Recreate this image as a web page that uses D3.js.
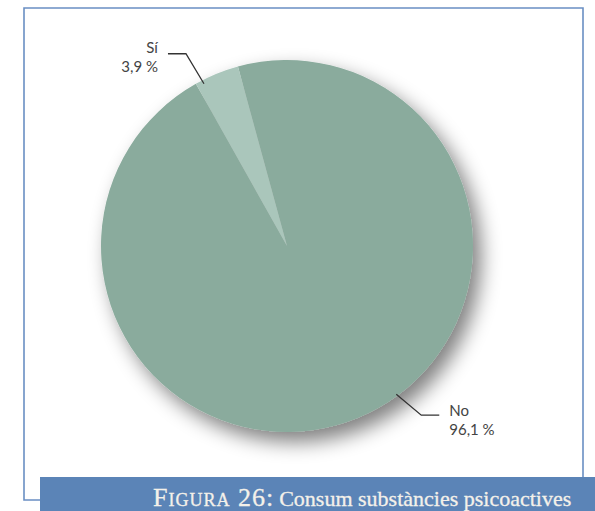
<!DOCTYPE html>
<html>
<head>
<meta charset="utf-8">
<script src="https://cdn.jsdelivr.net/npm/d3@7"></script>
<style>
  html, body { margin: 0; padding: 0; background: #ffffff; }
  svg { display: block; }
</style>
</head>
<body>
<svg id="chart" width="595" height="511"></svg>
<script>
// Consum de substàncies psicoactives: Sí / No
const categories = ["No", "Sí"];
const values = [96.1, 3.9];
const valueLabels = ["96,1 %", "3,9 %"];
const colors = ["#8aab9d", "#aac6bb"];

const W = 595, H = 511;
const svg = d3.select("#chart");

// frame and caption band
const frame = { x: 24, y: 8, right: 583, bottom: 500, bandX: 40, bandY: 477 };
svg.append("path")
  .attr("d", `M${frame.bandX},${frame.bottom} L${frame.x},${frame.bottom} L${frame.x},${frame.y} L${frame.right},${frame.y} L${frame.right},${frame.bandY}`)
  .attr("fill", "none")
  .attr("stroke", "#6a8fc3")
  .attr("stroke-width", 1.6);

svg.append("rect")
  .attr("x", frame.bandX).attr("y", frame.bandY)
  .attr("width", W - frame.bandX).attr("height", H - frame.bandY)
  .attr("fill", "#5b84b7");

const caption = svg.append("text")
  .attr("x", 153).attr("y", 506)
  .attr("fill", "#f4f1ea")
  .attr("stroke", "#f4f1ea").attr("stroke-width", 0.3)
  .attr("font-family", "'Liberation Serif', 'DejaVu Serif', serif");
caption.append("tspan")
  .attr("font-size", 26)
  .attr("font-variant", "small-caps")
  .attr("letter-spacing", 1)
  .text("Figura 26:");
caption.append("tspan")
  .attr("font-size", 22)
  .attr("dx", 5)
  .text("Consum substàncies psicoactives");

// pie
const cx = 287, cy = 246, r = 186;
const startAngle = -15.3 * Math.PI / 180;

const defs = svg.append("defs");
const filt = defs.append("filter").attr("id", "shadow")
  .attr("x", "-30%").attr("y", "-30%").attr("width", "160%").attr("height", "160%");
filt.append("feGaussianBlur").attr("in", "SourceAlpha").attr("stdDeviation", 10).attr("result", "blur");
filt.append("feOffset").attr("in", "blur").attr("dx", 8).attr("dy", 10).attr("result", "off");
filt.append("feComponentTransfer").attr("in", "off").attr("result", "soft")
  .append("feFuncA").attr("type", "linear").attr("slope", 0.5);
const merge = filt.append("feMerge");
merge.append("feMergeNode").attr("in", "soft");
merge.append("feMergeNode").attr("in", "SourceGraphic");

const pie = d3.pie().sort(null).value(d => d)
  .startAngle(startAngle).endAngle(startAngle + 2 * Math.PI);
const arcs = pie(values);
const arc = d3.arc().innerRadius(0).outerRadius(r);

const g = svg.append("g").attr("transform", `translate(${cx},${cy})`);
g.append("g").attr("filter", "url(#shadow)")
  .selectAll("path")
  .data(arcs)
  .join("path")
  .attr("d", arc)
  .attr("fill", (d, i) => colors[i]);

// leader lines and labels
// anchor: angle (deg, clockwise from top) and radius factor; elbow offset; horizontal run
const leaders = [
  { anchorDeg: 143.6, rf: 0.99, elbow: [25, 21], run: 18, side: 1 },
  { anchorDeg: -27.1, rf: 0.98, elbow: [-18, -30], run: 18, side: -1 }
];

const labelFont = "'Lato', 'Open Sans', sans-serif";
arcs.forEach((a, i) => {
  const L = leaders[i];
  const t = L.anchorDeg * Math.PI / 180;
  const ax = cx + r * L.rf * Math.sin(t);
  const ay = cy - r * L.rf * Math.cos(t);
  const ex = ax + L.elbow[0], ey = ay + L.elbow[1];
  const hx = ex + L.side * L.run;
  svg.append("polyline")
    .attr("points", `${ax},${ay} ${ex},${ey} ${hx},${ey}`)
    .attr("fill", "none")
    .attr("stroke", "#333")
    .attr("stroke-width", 1.3);
  const tx = hx + L.side * 10;
  const anchor = L.side > 0 ? "start" : "end";
  const firstY = L.side > 0 ? ey + 1 : ey - 1;
  svg.append("text")
    .attr("x", tx).attr("y", firstY)
    .attr("text-anchor", anchor)
    .attr("font-family", labelFont).attr("font-size", 15)
    .attr("fill", "#444")
    .text(categories[i]);
  svg.append("text")
    .attr("x", tx).attr("y", firstY + 19)
    .attr("text-anchor", anchor)
    .attr("font-family", labelFont).attr("font-size", 15)
    .attr("fill", "#444")
    .text(valueLabels[i]);
});
</script>
</body>
</html>
